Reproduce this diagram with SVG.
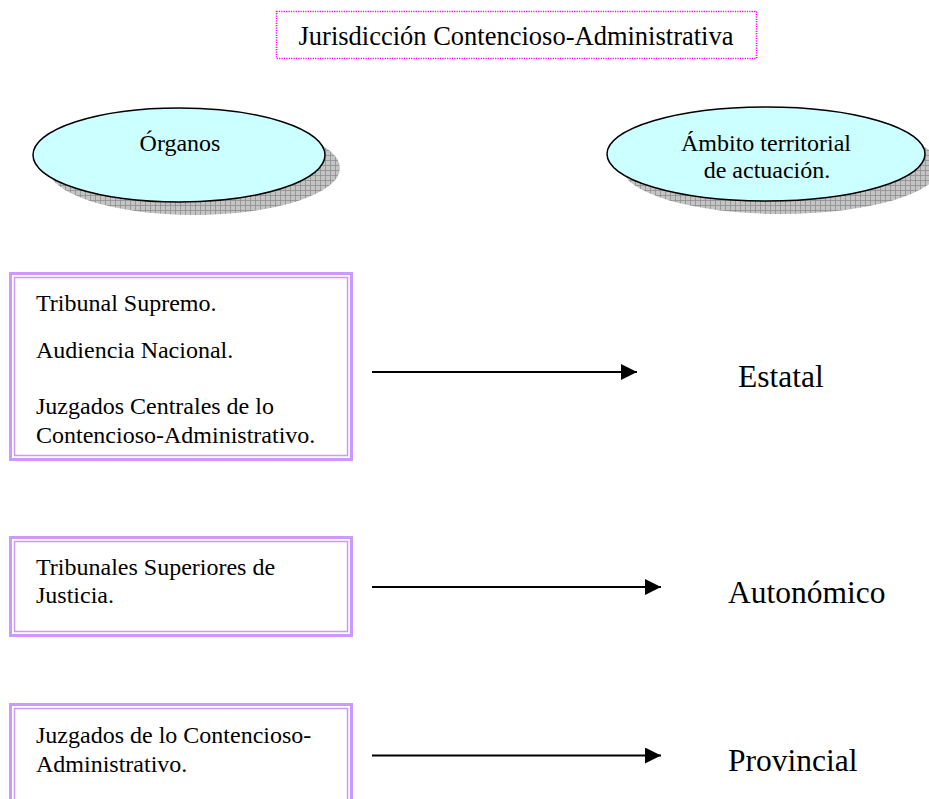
<svg xmlns="http://www.w3.org/2000/svg" width="929" height="799" viewBox="0 0 929 799">
<style>
  text { font-family: "Liberation Serif", "Times New Roman", serif; fill: #000; }
  .t24 { font-size: 24px; }
  .t31 { font-size: 31.5px; }
  .title { font-size: 26.5px; }
  .ell { fill: #ccffff; stroke: #000; stroke-width: 1.5; }
  .shadow { fill: url(#grid); }
  .bo { fill: #fff; stroke: #cc99ff; stroke-width: 3; }
  .bi { fill: none; stroke: #cc99ff; stroke-width: 1.5; }
  .conn { stroke: #000; stroke-width: 2; fill: none; marker-end: url(#arr); }
</style>
<defs>
  <pattern id="grid" width="5" height="5" patternUnits="userSpaceOnUse">
    <rect width="5" height="5" fill="#c4c4c4"/>
    <path d="M0 0.5H5M0.5 0V5" stroke="#8e8e8e" stroke-width="0.8"/>
  </pattern>
  <marker id="arr" viewBox="0 0 16 16" refX="16" refY="8" markerWidth="16" markerHeight="16" markerUnits="userSpaceOnUse" orient="auto">
    <path d="M0 0L16 8L0 16Z" fill="#000"/>
  </marker>
</defs>
<rect width="929" height="799" fill="#fff"/>

<g id="title">
  <rect x="276.5" y="11.5" width="480" height="47" fill="none" stroke="#ff00ff" stroke-width="1.5" stroke-dasharray="1.2 1.2"/>
  <text class="title" x="516" y="45" text-anchor="middle">Jurisdicción Contencioso-Administrativa</text>
</g>

<g id="organos">
  <ellipse class="shadow" cx="194" cy="168" rx="146" ry="47"/>
  <ellipse class="ell" cx="179" cy="155" rx="146" ry="47"/>
  <text class="t24" x="180" y="151" text-anchor="middle">Órganos</text>
</g>

<g id="ambito">
  <ellipse class="shadow" cx="781" cy="167" rx="159" ry="47"/>
  <ellipse class="ell" cx="766" cy="154" rx="159" ry="47"/>
  <text class="t24" x="766" y="151" text-anchor="middle">Ámbito territorial</text>
  <text class="t24" x="767" y="178" text-anchor="middle">de actuación.</text>
</g>

<g id="box1">
  <rect class="bo" x="10.5" y="273.5" width="341" height="186"/>
  <rect class="bi" x="14.5" y="277.5" width="333" height="178"/>
  <text class="t24" x="36" y="311">Tribunal Supremo.</text>
  <text class="t24" x="36" y="357.5">Audiencia Nacional.</text>
  <text class="t24" x="36" y="414">Juzgados Centrales de lo</text>
  <text class="t24" x="36" y="443">Contencioso-Administrativo.</text>
</g>

<g id="box2">
  <rect class="bo" x="10.5" y="537.5" width="341" height="98"/>
  <rect class="bi" x="14.5" y="541.5" width="333" height="90"/>
  <text class="t24" x="36" y="575">Tribunales Superiores de</text>
  <text class="t24" x="36" y="603">Justicia.</text>
</g>

<g id="box3">
  <rect class="bo" x="10.5" y="704.5" width="341" height="130"/>
  <rect class="bi" x="14.5" y="708.5" width="333" height="122"/>
  <text class="t24" x="36" y="743">Juzgados de lo Contencioso-</text>
  <text class="t24" x="36" y="772">Administrativo.</text>
</g>

<g id="estatal"><text class="t31" x="738" y="387">Estatal</text></g>
<g id="autonomico"><text class="t31" x="728" y="603">Autonómico</text></g>
<g id="provincial"><text class="t31" x="728" y="771">Provincial</text></g>

<g id="connectors">
  <line class="conn" x1="372" y1="372" x2="637" y2="372"/>
  <line class="conn" x1="372" y1="587" x2="661" y2="587"/>
  <line class="conn" x1="372" y1="755.5" x2="661" y2="755.5"/>
</g>
</svg>
